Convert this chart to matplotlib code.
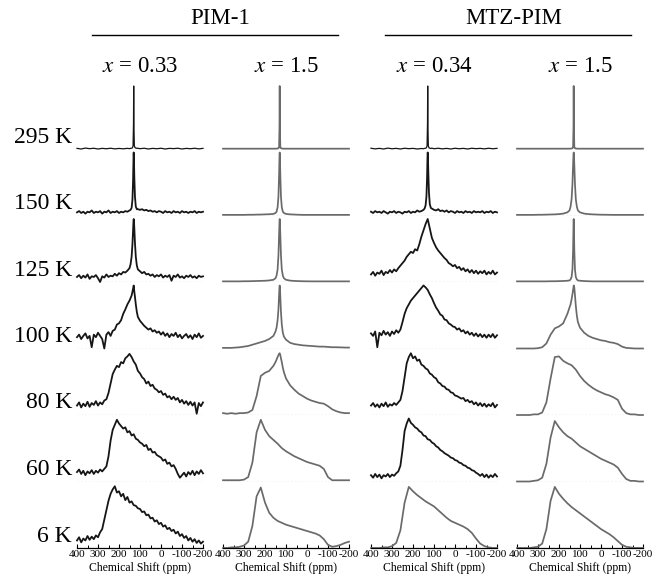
"""Variable-temperature spectra grid: PIM-1 and MTZ-PIM at two loadings."""

import matplotlib

matplotlib.use("Agg")
import matplotlib.pyplot as plt
from matplotlib.lines import Line2D

plt.rcParams["font.family"] = ["Liberation Serif", "DejaVu Serif"]
plt.rcParams["mathtext.fontset"] = "stix"

# ---------------------------------------------------------------- data
TEMPS = ["295 K", "150 K", "125 K", "100 K", "80 K", "60 K", "6 K"]
GROUPS = ["PIM-1", "MTZ-PIM"]
LOADINGS = ["$x$ = 0.33", "$x$ = 1.5", "$x$ = 0.34", "$x$ = 1.5"]
TICKS = [400, 300, 200, 100, 0, -100, -200]
TICK_LABELS = ["400", "300", "200", "100", "0", "-100", "-200"]

# ppm sampling grids (chemical shift axis)
PPM_S = list(range(400, -201, -20))
PPM_N = list(range(400, -201, -10))
PPM_PEAK = ([400, 380, 360, 340, 320, 300, 280, 260, 240, 220, 200, 180, 160]
            + [150, 145, 140, 136, 133, 131, 130, 129, 127, 124, 120, 115, 110]
            + [100, 80, 60, 40, 20, 0, -20, -40, -60, -80, -100, -120, -140,
               -160, -180, -200])
PPM_PEAK_N = (list(range(400, 149, -10))
              + [145, 140, 136, 133, 131, 130, 129, 127, 124, 120, 115]
              + list(range(110, -201, -10)))

# PIM-1, x = 0.33
PIM1_X033_295 = [0.01, 0.0, 0.015, 0.005, 0.012, 0.0, 0.01, 0.004, 0.012, 0.002, 0.009, 0.003, 0.01,
                 0.006, 0.01, 0.012, 0.02, 0.05, 0.4, 1.0, 0.4, 0.05, 0.025, 0.015, 0.01, 0.012,
                 0.005, 0.012, 0.0, 0.01, 0.004, 0.012, 0.0, 0.01, 0.006, 0.012, 0.0, 0.01, 0.004,
                 0.012, 0.002, 0.01]
PIM1_X033_150 = [0.05, 0.07, 0.04, 0.06, 0.03, 0.06, 0.05, 0.08, 0.04, 0.06, 0.05, 0.07, 0.03,
                 0.06, 0.05, 0.08, 0.04, 0.06, 0.05, 0.07, 0.04, 0.06, 0.05, 0.07, 0.06, 0.08,
                 0.09, 0.12, 0.25, 0.55, 0.9, 1.0, 0.92, 0.6, 0.3, 0.14, 0.1,
                 0.1, 0.09, 0.1, 0.08, 0.09, 0.07, 0.08, 0.06, 0.07, 0.05, 0.07, 0.06, 0.04, 0.07,
                 0.05, 0.06, 0.04, 0.07, 0.05, 0.06, 0.04, 0.07, 0.05, 0.06, 0.04, 0.06, 0.05,
                 0.07, 0.04, 0.06, 0.05, 0.06]
PIM1_X033_125 = [0.08, 0.11, 0.06, 0.1, 0.07, 0.12, 0.05, 0.09, 0.08, 0.11, 0.06, 0.0, 0.09,
                 0.07, 0.12, 0.08, 0.1, 0.09, 0.13, 0.1, 0.14, 0.12, 0.16, 0.15, 0.18, 0.22,
                 0.28, 0.4, 0.6, 0.82, 0.97, 1.0, 0.98, 0.85, 0.62, 0.4, 0.26,
                 0.2, 0.17, 0.14, 0.16, 0.12, 0.13, 0.1, 0.12, 0.08, 0.11, 0.09, 0.12, 0.07, 0.1,
                 0.08, 0.11, 0.02, 0.1, 0.08, 0.12, 0.07, 0.09, 0.06, 0.1, 0.08, 0.11, 0.07,
                 0.09, 0.06, 0.1, 0.08, 0.09]
PIM1_X033_100 = [0.18, 0.22, 0.15, 0.2, 0.24, 0.16, 0.2, 0.02, 0.22, 0.18, 0.25, 0.2, 0.15,
                 0.0, 0.22, 0.26, 0.2, 0.28, 0.3, 0.38, 0.4, 0.45, 0.55, 0.62, 0.7, 0.76,
                 0.8, 0.84, 0.9, 0.95, 0.98, 1.0, 0.97, 0.9, 0.82, 0.7, 0.58,
                 0.5, 0.44, 0.4, 0.36, 0.33, 0.3, 0.32, 0.27, 0.29, 0.25, 0.27, 0.22, 0.26, 0.2,
                 0.24, 0.18, 0.23, 0.2, 0.25, 0.18, 0.22, 0.16, 0.2, 0.23, 0.17, 0.21, 0.15,
                 0.22, 0.18, 0.24, 0.17, 0.2]
PIM1_X033_80 = [0.15, 0.2, 0.12, 0.18, 0.14, 0.21, 0.13, 0.19, 0.16, 0.22,
                0.15, 0.2, 0.17, 0.23, 0.25, 0.35, 0.5, 0.65, 0.72, 0.78,
                0.76, 0.84, 0.82, 0.9, 0.93, 0.97, 0.92, 0.85, 0.8, 0.7,
                0.66, 0.6, 0.57, 0.5, 0.53, 0.46, 0.48, 0.42, 0.4, 0.36,
                0.38, 0.32, 0.34, 0.28, 0.3, 0.25, 0.29, 0.24, 0.27, 0.2,
                0.24, 0.18, 0.22, 0.16, 0.21, 0.15, 0.2, 0.02, 0.19, 0.14,
                0.2]
PIM1_X033_60 = [0.15, 0.19, 0.12, 0.17, 0.1, 0.16, 0.13, 0.18, 0.12, 0.17,
                0.14, 0.19, 0.16, 0.2, 0.24, 0.4, 0.65, 0.82, 0.9, 0.98,
                0.92, 0.88, 0.84, 0.86, 0.78, 0.8, 0.73, 0.75, 0.68, 0.66,
                0.62, 0.6, 0.56, 0.58, 0.5, 0.52, 0.46, 0.47, 0.42, 0.4,
                0.38, 0.33, 0.35, 0.28, 0.3, 0.24, 0.26, 0.2, 0.12, 0.06,
                0.1, 0.14, 0.08, 0.15, 0.11, 0.17, 0.1, 0.16, 0.12, 0.18,
                0.13]
PIM1_X033_6 = [0.12, 0.17, 0.09, 0.15, 0.12, 0.19, 0.13, 0.18, 0.14, 0.2,
               0.17, 0.25, 0.3, 0.45, 0.6, 0.75, 0.86, 0.93, 0.98, 0.88,
               0.9, 0.82, 0.86, 0.76, 0.81, 0.72, 0.74, 0.68, 0.67, 0.63,
               0.62, 0.57, 0.58, 0.52, 0.53, 0.47, 0.48, 0.42, 0.44, 0.38,
               0.4, 0.34, 0.36, 0.3, 0.32, 0.27, 0.29, 0.23, 0.26, 0.19,
               0.22, 0.16, 0.19, 0.12, 0.16, 0.1, 0.14, 0.08, 0.12, 0.07,
               0.1]

# PIM-1, x = 1.5
PIM1_X15_295 = [0.005, 0.005, 0.005, 0.005, 0.005, 0.005, 0.005, 0.005, 0.005, 0.005, 0.005, 0.005, 0.005,
                0.005, 0.006, 0.008, 0.012, 0.03, 0.35, 1.0, 0.35, 0.03, 0.012, 0.008, 0.006, 0.005,
                0.005, 0.005, 0.005, 0.005, 0.005, 0.005, 0.005, 0.005, 0.005, 0.005, 0.005, 0.005,
                0.005, 0.005, 0.005, 0.005]
PIM1_X15_150 = [0.01, 0.01, 0.01, 0.01, 0.01, 0.01, 0.012, 0.012, 0.014, 0.015, 0.018, 0.02, 0.025,
                0.04, 0.06, 0.13, 0.3, 0.64, 0.94, 1.0, 0.94, 0.64, 0.3, 0.13, 0.06, 0.04,
                0.025, 0.018, 0.015, 0.012, 0.01, 0.01, 0.01, 0.01, 0.01, 0.01, 0.01, 0.01, 0.01,
                0.01, 0.01, 0.01]
PIM1_X15_125 = [0.01, 0.01, 0.01, 0.01, 0.01, 0.012, 0.012, 0.014, 0.016, 0.018, 0.02, 0.025, 0.035,
                0.06, 0.1, 0.2, 0.42, 0.75, 0.96, 1.0, 0.96, 0.75, 0.42, 0.2, 0.1, 0.06,
                0.035, 0.022, 0.017, 0.014, 0.012, 0.011, 0.01, 0.01, 0.01, 0.01, 0.01, 0.01, 0.01,
                0.01, 0.01, 0.01]
PIM1_X15_100 = [0.01, 0.01, 0.01, 0.015, 0.02, 0.03, 0.04, 0.06, 0.08, 0.1, 0.12, 0.15, 0.2,
                0.27, 0.33, 0.45, 0.62, 0.85, 0.98, 1.0, 0.97, 0.82, 0.58, 0.38, 0.25, 0.19,
                0.14, 0.09, 0.07, 0.06, 0.05, 0.045, 0.04, 0.035, 0.03, 0.03, 0.025, 0.02, 0.02,
                0.018, 0.015, 0.015]
PIM1_X15_80 = [0.03, 0.02, 0.03, 0.02, 0.03, 0.03, 0.04, 0.08, 0.3, 0.62, 0.67, 0.7, 0.78,
               0.84, 0.88, 0.92, 0.95, 0.97, 0.98, 0.98, 0.97, 0.95, 0.9, 0.84, 0.75, 0.68,
               0.58, 0.47, 0.4, 0.34, 0.3, 0.26, 0.23, 0.21, 0.19, 0.18, 0.14, 0.09, 0.06,
               0.04, 0.03, 0.03]
PIM1_X15_60 = [0.02, 0.02, 0.02, 0.02, 0.02, 0.03, 0.07, 0.3, 0.78, 0.98, 0.82, 0.72, 0.66,
               0.6, 0.53, 0.48, 0.44, 0.4, 0.37, 0.34, 0.31, 0.29, 0.27, 0.25, 0.2, 0.07,
               0.02, 0.02, 0.02, 0.02, 0.02]
PIM1_X15_6 = [0.0, 0.0, 0.01, 0.01, 0.02, 0.04, 0.1, 0.35, 0.82, 0.96, 0.72, 0.56, 0.48,
              0.43, 0.4, 0.37, 0.35, 0.33, 0.31, 0.29, 0.27, 0.25, 0.23, 0.2, 0.14, 0.05,
              0.02, 0.03, 0.05, 0.08, 0.1]

# MTZ-PIM, x = 0.34
MTZ_X034_295 = [0.012, 0.002, 0.01, 0.0, 0.014, 0.004, 0.01, 0.0, 0.012, 0.005, 0.01, 0.0, 0.008,
                0.004, 0.01, 0.012, 0.02, 0.05, 0.4, 1.0, 0.4, 0.05, 0.02, 0.012, 0.008, 0.014,
                0.004, 0.012, 0.002, 0.01, 0.0, 0.012, 0.004, 0.01, 0.0, 0.012, 0.005, 0.01, 0.002,
                0.012, 0.004, 0.01]
MTZ_X034_150 = [0.06, 0.04, 0.07, 0.05, 0.06, 0.04, 0.07, 0.05, 0.03, 0.06, 0.05, 0.07, 0.04,
                0.06, 0.05, 0.03, 0.06, 0.05, 0.07, 0.04, 0.06, 0.05, 0.08, 0.06, 0.07, 0.09,
                0.11, 0.16, 0.3, 0.6, 0.92, 1.0, 0.95, 0.68, 0.36, 0.18, 0.12,
                0.11, 0.09, 0.08, 0.1, 0.07, 0.08, 0.06, 0.08, 0.05, 0.07, 0.06, 0.04, 0.07, 0.05,
                0.06, 0.04, 0.07, 0.05, 0.06, 0.04, 0.07, 0.05, 0.06, 0.05, 0.07, 0.04, 0.06,
                0.05, 0.07, 0.04, 0.06, 0.05]
MTZ_X034_125 = [0.12, 0.16, 0.1, 0.15, 0.13, 0.18, 0.11, 0.16, 0.14, 0.19,
                0.15, 0.2, 0.17, 0.22, 0.26, 0.3, 0.34, 0.4, 0.44, 0.48,
                0.46, 0.52, 0.5, 0.6, 0.72, 0.82, 0.92, 1.0, 0.85, 0.7,
                0.62, 0.55, 0.5, 0.46, 0.42, 0.38, 0.35, 0.3, 0.28, 0.25,
                0.27, 0.22, 0.24, 0.19, 0.22, 0.17, 0.2, 0.15, 0.19, 0.14,
                0.18, 0.13, 0.17, 0.14, 0.18, 0.12, 0.16, 0.13, 0.18, 0.12,
                0.15]
MTZ_X034_100 = [0.24, 0.2, 0.27, 0.02, 0.25, 0.21, 0.28, 0.22, 0.26, 0.2,
                0.27, 0.23, 0.29, 0.25, 0.3, 0.42, 0.55, 0.64, 0.7, 0.76,
                0.8, 0.84, 0.88, 0.92, 0.96, 1.0, 0.97, 0.93, 0.86, 0.8,
                0.72, 0.65, 0.6, 0.54, 0.52, 0.46, 0.45, 0.4, 0.38, 0.35,
                0.34, 0.3, 0.32, 0.27, 0.29, 0.24, 0.27, 0.22, 0.25, 0.2,
                0.24, 0.19, 0.23, 0.18, 0.22, 0.17, 0.22, 0.18, 0.23, 0.17,
                0.21]
MTZ_X034_80 = [0.15, 0.19, 0.13, 0.17, 0.12, 0.18, 0.14, 0.2, 0.13, 0.17,
               0.15, 0.19, 0.16, 0.2, 0.24, 0.38, 0.6, 0.82, 0.92, 0.98,
               0.9, 0.93, 0.86, 0.88, 0.8, 0.78, 0.74, 0.72, 0.66, 0.64,
               0.6, 0.58, 0.52, 0.5, 0.46, 0.45, 0.41, 0.4, 0.36, 0.35,
               0.31, 0.3, 0.28, 0.26, 0.27, 0.22, 0.24, 0.2, 0.22, 0.17,
               0.2, 0.15, 0.19, 0.14, 0.18, 0.13, 0.17, 0.14, 0.19, 0.12,
               0.16]
MTZ_X034_60 = [0.1, 0.06, 0.12, 0.07, 0.11, 0.05, 0.1, 0.08, 0.12, 0.07,
               0.11, 0.09, 0.13, 0.16, 0.25, 0.5, 0.8, 0.92, 1.0, 0.93,
               0.9, 0.86, 0.84, 0.8, 0.78, 0.73, 0.72, 0.67, 0.66, 0.62,
               0.6, 0.56, 0.54, 0.5, 0.48, 0.45, 0.43, 0.41, 0.38, 0.37,
               0.34, 0.33, 0.3, 0.29, 0.26, 0.25, 0.22, 0.21, 0.18, 0.17,
               0.14, 0.12, 0.09, 0.12, 0.07, 0.11, 0.06, 0.1, 0.07, 0.12,
               0.08]
MTZ_X034_6 = [0.0, 0.0, 0.0, 0.01, 0.01, 0.03, 0.08, 0.28, 0.72, 0.97, 0.9, 0.84, 0.79,
              0.74, 0.7, 0.66, 0.6, 0.54, 0.48, 0.43, 0.4, 0.37, 0.34, 0.3, 0.24, 0.15,
              0.07, 0.03, 0.01, 0.0, 0.0]

# MTZ-PIM, x = 1.5
MTZ_X15_295 = [0.005, 0.005, 0.005, 0.005, 0.005, 0.005, 0.005, 0.005, 0.005, 0.005, 0.005, 0.005, 0.005,
               0.005, 0.006, 0.008, 0.012, 0.03, 0.35, 1.0, 0.35, 0.03, 0.012, 0.008, 0.006, 0.005,
               0.005, 0.005, 0.005, 0.005, 0.005, 0.005, 0.005, 0.005, 0.005, 0.005, 0.005, 0.005,
               0.005, 0.005, 0.005, 0.005]
MTZ_X15_150 = [0.01, 0.01, 0.01, 0.01, 0.01, 0.012, 0.012, 0.014, 0.016, 0.018, 0.022, 0.03, 0.05,
               0.08, 0.14, 0.26, 0.5, 0.8, 0.97, 1.0, 0.97, 0.8, 0.5, 0.26, 0.14, 0.08,
               0.05, 0.03, 0.022, 0.018, 0.015, 0.013, 0.012, 0.011, 0.01, 0.01, 0.01, 0.01, 0.01,
               0.01, 0.01, 0.01]
MTZ_X15_125 = [0.01, 0.01, 0.01, 0.01, 0.01, 0.01, 0.01, 0.01, 0.012, 0.012, 0.014, 0.016, 0.02,
               0.025, 0.04, 0.08, 0.2, 0.5, 0.9, 1.0, 0.9, 0.5, 0.2, 0.08, 0.04, 0.025,
               0.02, 0.015, 0.012, 0.01, 0.01, 0.01, 0.01, 0.01, 0.01, 0.01, 0.01, 0.01, 0.01,
               0.01, 0.01, 0.01]
MTZ_X15_100 = [0.0, 0.0, 0.0, 0.0, 0.0, 0.005, 0.02, 0.08, 0.22, 0.32, 0.35, 0.4, 0.55,
               0.65, 0.7, 0.78, 0.86, 0.93, 0.97, 1.0, 1.0, 0.96, 0.85, 0.68, 0.52, 0.42,
               0.33, 0.25, 0.2, 0.17, 0.15, 0.13, 0.12, 0.1, 0.09, 0.07, 0.03, 0.01, 0.005,
               0.0, 0.0, 0.0]
MTZ_X15_80 = [0.0, 0.0, 0.0, 0.0, 0.01, 0.01, 0.04, 0.2, 0.58, 0.92, 0.93, 0.86, 0.82,
              0.79, 0.72, 0.62, 0.54, 0.48, 0.43, 0.39, 0.36, 0.33, 0.31, 0.28, 0.24, 0.1,
              0.03, 0.01, 0.01, 0.0, 0.0]
MTZ_X15_60 = [0.0, 0.0, 0.0, 0.0, 0.01, 0.02, 0.06, 0.28, 0.7, 0.96, 0.86, 0.78, 0.72,
              0.68, 0.62, 0.56, 0.52, 0.48, 0.44, 0.4, 0.36, 0.33, 0.3, 0.27, 0.22, 0.12,
              0.04, 0.01, 0.01, 0.0, 0.0]
MTZ_X15_6 = [0.0, 0.0, 0.0, 0.0, 0.01, 0.02, 0.07, 0.3, 0.75, 0.97, 0.86, 0.78, 0.71,
             0.65, 0.6, 0.55, 0.5, 0.45, 0.4, 0.35, 0.3, 0.26, 0.22, 0.17, 0.11, 0.05,
             0.02, 0.01, 0.0, 0.0, 0.0]

COLUMNS = [
    [PIM1_X033_295, PIM1_X033_150, PIM1_X033_125, PIM1_X033_100, PIM1_X033_80, PIM1_X033_60, PIM1_X033_6],
    [PIM1_X15_295, PIM1_X15_150, PIM1_X15_125, PIM1_X15_100, PIM1_X15_80, PIM1_X15_60, PIM1_X15_6],
    [MTZ_X034_295, MTZ_X034_150, MTZ_X034_125, MTZ_X034_100, MTZ_X034_80, MTZ_X034_60, MTZ_X034_6],
    [MTZ_X15_295, MTZ_X15_150, MTZ_X15_125, MTZ_X15_100, MTZ_X15_80, MTZ_X15_60, MTZ_X15_6],
]
GRIDS = {len(g): g for g in (PPM_S, PPM_N, PPM_PEAK, PPM_PEAK_N)}

# -------------------------------------------------------------- layout
W, H = 652, 582
COL_LEFT = [77, 223, 371, 517]
AX_W = 126
ROW_H = 66.5
ROW_BASE = [149 + i * ROW_H for i in range(7)]
TOP_VAL = 63.0  # pixel height of a full-scale peak

fig = plt.figure(figsize=(W / 100, H / 100), dpi=100)

for c, col in enumerate(COLUMNS):
    for r, vals in enumerate(col):
        ax = fig.add_axes([COL_LEFT[c] / W, 1 - ROW_BASE[r] / H, AX_W / W, ROW_H / H])
        ppm = GRIDS[len(vals)]
        noisy = c in (0, 2) and len(vals) != len(PPM_S)
        if noisy:
            lw = 0.9 if r == 0 else 1.3
            ax.plot(ppm, vals, color="#161616", lw=lw, clip_on=False)
        else:
            ax.plot(ppm, vals, color="#6a6a6a", lw=1.25, clip_on=False)
        ax.set_xlim(400, -200)
        ax.set_ylim(0, ROW_H / TOP_VAL)
        ax.set_yticks([])
        for side in ("top", "left", "right"):
            ax.spines[side].set_visible(False)
        if r < len(TEMPS) - 1:
            ax.spines["bottom"].set_visible(False)
            ax.set_xticks([])
            ax.axhline(0, color="#b5b5b5", lw=0.9, ls=(0, (1.5, 1.5)), zorder=0)
        else:
            ax.spines["bottom"].set_linewidth(0.9)
            ax.set_xticks(TICKS)
            ax.set_xticklabels(TICK_LABELS)
            ax.set_xticks([350, 250, 150, 50, -50, -150], minor=True)
            ax.tick_params(axis="x", which="major", direction="in", length=3,
                           width=0.8, labelsize=8, pad=1.5)
            ax.tick_params(axis="x", which="minor", direction="in", length=2, width=0.7)
            ax.set_xlabel("Chemical Shift (ppm)", fontsize=8.5, labelpad=2)
        ax.patch.set_visible(False)

# row labels
for r, label in enumerate(TEMPS):
    fig.text(72 / W, 1 - (ROW_BASE[r] - 12) / H, label, ha="right", va="center",
             fontsize=17)

# column headers
for c, label in enumerate(LOADINGS):
    cx = COL_LEFT[c] + AX_W / 2
    fig.text(cx / W, 1 - 67 / H, label, ha="center", va="center", fontsize=16.5)

# group headers with underline
for g, (label, x0, x1, tx) in enumerate(zip(GROUPS, [92, 385], [338, 631], [220, 514])):
    fig.text(tx / W, 1 - 19 / H, label, ha="center", va="center", fontsize=16.5)
    fig.add_artist(Line2D([x0 / W, x1 / W], [1 - 35 / H, 1 - 35 / H],
                          color="black", lw=1.0))

fig.savefig("out.png", dpi=100)
